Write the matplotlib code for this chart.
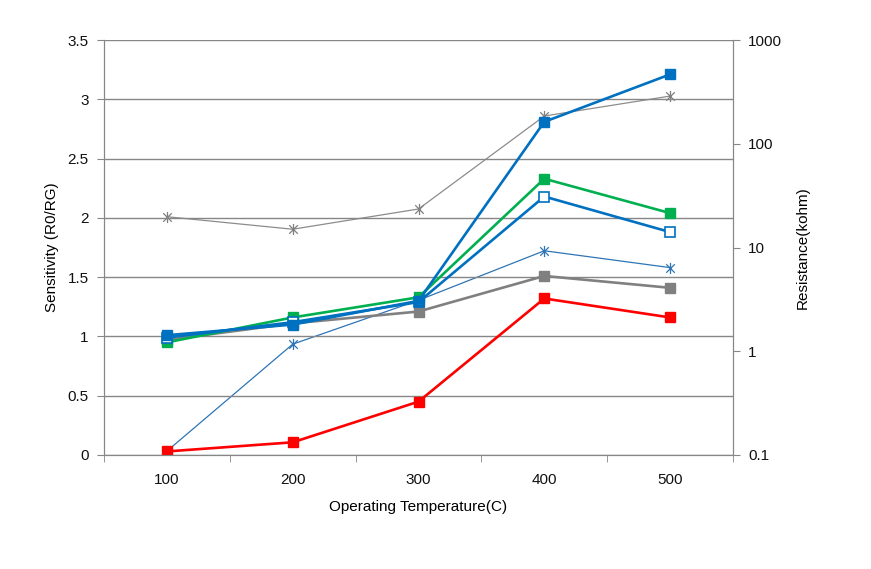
import numpy as np
import matplotlib.pyplot as plt
from matplotlib.path import Path

plt.rcParams['font.family'] = ['Liberation Sans', 'DejaVu Sans']

# data
temps = ['100', '200', '300', '400', '500']

# left axis: sensitivity
sens_blue = [1.01, 1.10, 1.30, 2.81, 3.21]
sens_green = [0.95, 1.16, 1.33, 2.33, 2.04]
sens_blue_open = [0.99, 1.12, 1.29, 2.18, 1.88]
sens_gray = [0.97, 1.11, 1.21, 1.51, 1.41]
sens_red = [0.03, 0.107, 0.45, 1.32, 1.16]

# right axis: resistance (kohm)
res_gray = [19.8, 15.0, 23.5, 185, 288]
res_blue = [0.109, 1.17, 3.1, 9.3, 6.4]

grid_col = '#868686'
fs = 11
x = np.arange(len(temps))

# excel style asterisk marker (x plus vertical bar)
star = Path([(-1, -1), (1, 1), (-1, 1), (1, -1), (0, -1.3), (0, 1.3)],
            [Path.MOVETO, Path.LINETO, Path.MOVETO, Path.LINETO, Path.MOVETO, Path.LINETO])

fig = plt.figure(figsize=(8.71, 5.69), dpi=100)
ax = fig.add_axes([104 / 871, 114 / 569, 629 / 871, 415 / 569])
ax2 = ax.twinx()

# --- right axis series (thin, drawn behind) ---
ax2.set_yscale('log')
ax2.plot(x, res_gray, color='#8c8c8c', lw=0.9, marker=star, ms=8, mew=0.9,
         mfc='none', mec='#7f7f7f')
ax2.plot(x, res_blue, color='#2e75b6', lw=0.9, marker=star, ms=8, mew=0.9,
         mfc='none', mec='#2e75b6')
ax2.set_ylim(0.1, 1000)
ax2.set_yticks([0.1, 1, 10, 100, 1000])
ax2.set_yticklabels(['0.1', '1', '10', '100', '1000'])
ax2.yaxis.set_minor_locator(plt.NullLocator())
ax2.set_ylabel('Resistance(kohm)', fontsize=fs, labelpad=10)

# --- left axis series ---
ax.set_zorder(ax2.get_zorder() + 1)
ax.patch.set_visible(False)
lw = 1.9
ms = 7.3
ax.plot(x, sens_gray, color='#808080', lw=lw, marker='s', ms=ms)
ax.plot(x, sens_red, color='#ff0000', lw=lw, marker='s', ms=ms)
ax.plot(x, sens_green, color='#00b050', lw=lw, marker='s', ms=ms)
ax.plot(x, sens_blue_open, color='#0070c0', lw=lw, marker='s', ms=ms,
        mfc='white', mew=1.2)
ax.plot(x, sens_blue, color='#0070c0', lw=lw, marker='s', ms=ms)

ax.set_xlim(-0.5, len(temps) - 0.5)
ax.set_ylim(0, 3.5)
ax.set_yticks(np.arange(0, 3.51, 0.5))
ax.set_yticklabels(['0', '0.5', '1', '1.5', '2', '2.5', '3', '3.5'])
ax.yaxis.grid(True, color=grid_col, lw=1)
ax.set_axisbelow(True)

ax.set_xticks(x)
ax.set_xticklabels(temps)
ax.set_xticks(np.arange(-0.5, len(temps), 1), minor=True)
ax.tick_params(axis='x', which='major', length=0, pad=13)
ax.tick_params(axis='x', which='minor', length=5, color=grid_col)
ax.tick_params(axis='y', length=5, color=grid_col, pad=6)
ax2.tick_params(axis='y', length=5, color=grid_col, pad=6)
for a in (ax, ax2):
    a.tick_params(labelsize=fs, labelcolor='#111111')
    for s in a.spines.values():
        s.set_color(grid_col)
    a.spines['top'].set_visible(False)

ax.set_ylabel('Sensitivity (R0/RG)', fontsize=fs, labelpad=6)
ax.set_xlabel('Operating Temperature(C)', fontsize=fs, labelpad=9)

plt.savefig('out.png', dpi=100)
